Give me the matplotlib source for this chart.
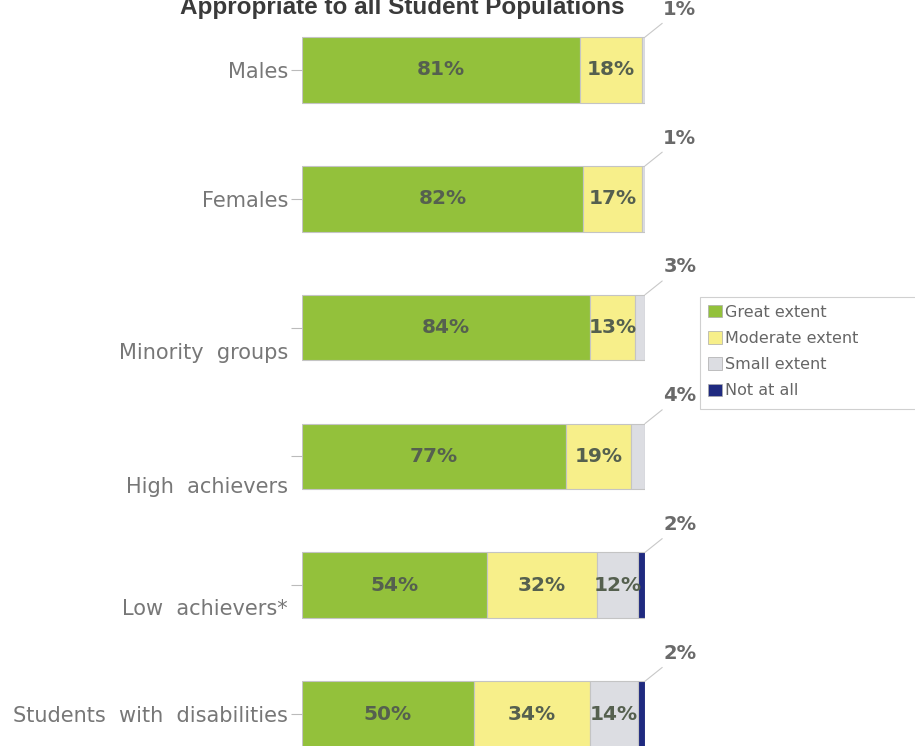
import matplotlib
matplotlib.use("Agg")
import matplotlib.pyplot as plt
import matplotlib.transforms as mtransforms
from matplotlib.patches import Rectangle
import numpy as np

# Data
groups = ["Males", "Females", "Minority  groups", "High  achievers",
          "Low  achievers*", "Students  with  disabilities"]
series = ["Great extent", "Moderate extent", "Small extent", "Not at all"]
great = [81, 82, 84, 77, 54, 50]
moderate = [18, 17, 13, 19, 32, 34]
small = [1, 1, 3, 4, 12, 14]
not_at_all = [0, 0, 0, 0, 2, 2]
title = "Appropriate to all Student Populations"

colors = ["#93c13b", "#f7ef8a", "#dcdde2", "#1f2a80"]


def main():
    fig = plt.figure(figsize=(9.15, 7.46), dpi=100)
    ax = fig.add_axes([302 / 915, 0, 343 / 915, 1])

    y = np.arange(len(groups))
    values = [great, moderate, small, not_at_all]
    left = np.zeros(len(groups))
    bar_h = 0.51
    handles = []
    for vals, col, name in zip(values, colors, series):
        vals = np.array(vals, dtype=float)
        bars = ax.barh(y, vals, left=left, height=bar_h, color=col,
                       edgecolor="#c4c4c4", linewidth=0.8, label=name)
        handles.append(bars)
        for i, v in enumerate(vals):
            if v >= 5:
                ax.text(left[i] + v / 2, y[i], f"{int(v)}%", ha="center",
                        va="center", fontsize=14.5, fontweight="bold",
                        color="#55604f")
        left += vals

    # callouts for the last small segment of each bar
    for i in range(len(groups)):
        last = [v[i] for v in values if v[i] > 0][-1]
        ax.annotate(f"{last}%", xy=(left[i], y[i] - bar_h / 2),
                    xytext=(25, 20), textcoords="offset points",
                    ha="center", va="center", fontsize=14,
                    fontweight="bold", color="#6a6a6a",
                    arrowprops=dict(arrowstyle="-", color="#c8c8c8",
                                    lw=0.8, shrinkA=2, shrinkB=0),
                    annotation_clip=False)

    ax.set_xlim(0, 100)
    ax.set_ylim(5.248, -0.543)
    ax.set_yticks(y)
    ax.set_yticklabels(groups, fontsize=15, color="#777777")
    ax.tick_params(axis="y", length=8, width=0.8, color="#bbbbbb", pad=2)
    ax.set_xticks([])
    for s in ax.spines.values():
        s.set_visible(False)

    # some category labels sit below their tick in the original
    shifts = {2: 23, 3: 29, 4: 22}
    for idx, lab in enumerate(ax.get_yticklabels()):
        if idx in shifts:
            off = mtransforms.ScaledTranslation(0, -shifts[idx] / 100,
                                                fig.dpi_scale_trans)
            lab.set_transform(lab.get_transform() + off)

    fig.text(402 / 915, 1 - 14 / 746, title, ha="center", va="baseline",
             fontsize=17.5, fontweight="bold", color="#3a3a3a",
             family="Liberation Sans")

    # legend frame runs off the right edge in the original
    fig.patches.append(Rectangle((700 / 915, 1 - 409 / 746), 0.4, 112 / 746,
                                 transform=fig.transFigure, facecolor="white",
                                 edgecolor="#d0d0d0", linewidth=0.8))
    leg = fig.legend(handles=handles, labels=series, loc="upper left",
                     bbox_to_anchor=(703 / 915, 1 - 300 / 746),
                     fontsize=11.5, frameon=False,
                     handlelength=0.9, handleheight=0.8, handletextpad=0.2,
                     labelspacing=0.7, borderpad=0.3, borderaxespad=0)
    for t in leg.get_texts():
        t.set_color("#666666")
    for h in leg.legend_handles:
        h.set_edgecolor("#aaaaaa")
        h.set_linewidth(0.5)

    fig.savefig("out.png", dpi=100)


if __name__ == "__main__":
    main()
